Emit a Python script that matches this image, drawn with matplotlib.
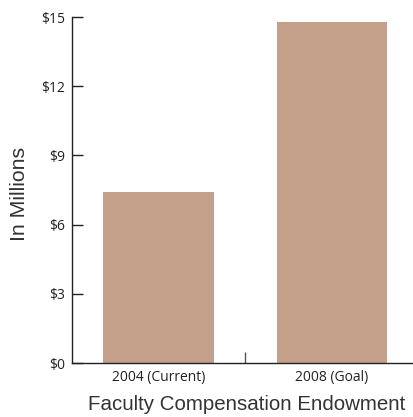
import matplotlib
matplotlib.use("Agg")
import matplotlib.pyplot as plt

categories = ["2004 (Current)", "2008 (Goal)"]
values = [7.4, 14.8]
yticks = [0, 3, 6, 9, 12, 15]
ytick_labels = ["$0", "$3", "$6", "$9", "$12", "$15"]

W, H = 413, 417
fig = plt.figure(figsize=(W / 100, H / 100), dpi=100)
ax = fig.add_axes([72 / W, (H - 363) / H, 345 / W, 346 / H])

bar_color = "#C4A08B"
ax.bar(range(len(categories)), values, width=0.636, color=bar_color)

ax.set_xlim(-0.5, 1.494)
ax.set_ylim(0, 15)

ax.spines["top"].set_visible(False)
ax.spines["right"].set_visible(False)
for s in ("left", "bottom"):
    ax.spines[s].set_color("#222222")
    ax.spines[s].set_linewidth(1.0)

ax.set_yticks(yticks)
ax.set_yticklabels(ytick_labels)
ax.tick_params(axis="y", direction="in", length=8, width=1.0, color="#222222",
               pad=5, labelsize=10, labelcolor="#222222")

ax.set_xticks([0, 1])
ax.set_xticklabels(categories)
ax.tick_params(axis="x", length=0, pad=5, labelsize=10, labelcolor="#222222")
ax.set_xticks([0.5], minor=True)
ax.tick_params(axis="x", which="minor", direction="in", length=8, width=1.0,
               color="#555555")

for lab in ax.get_xticklabels() + ax.get_yticklabels():
    lab.set_family("Open Sans")

fig.text(20 / W, 1 - 194 / H, "In Millions", rotation=90, ha="center", va="center",
         fontsize=15.3, color="#333333", family="Liberation Sans")
fig.text(247 / W, 1 - 404 / H, "Faculty Compensation Endowment", ha="center",
         va="center", fontsize=14.8, color="#333333", family="Liberation Sans")

fig.savefig("out.png", dpi=100)
